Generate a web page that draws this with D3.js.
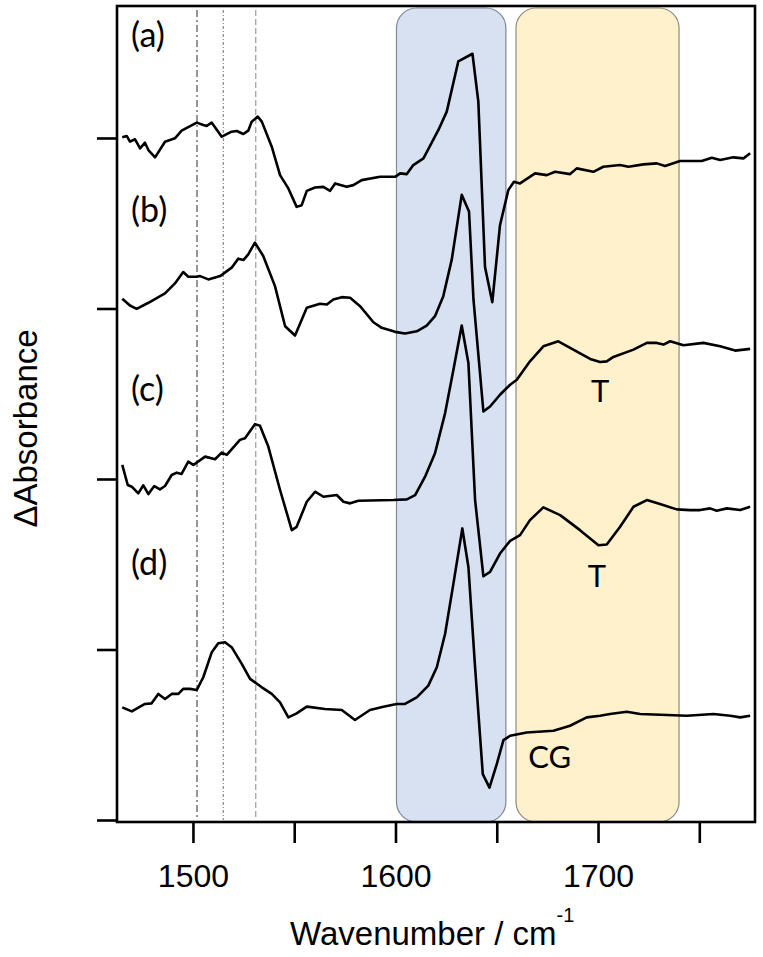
<!DOCTYPE html>
<html>
<head>
<meta charset="utf-8">
<script src="https://cdn.jsdelivr.net/npm/d3@7"></script>
<style>
  html, body { margin: 0; padding: 0; background: #fff; }
  svg { display: block; }
</style>
</head>
<body>
<svg id="chart" width="763" height="957"></svg>
<script>
// ---- data ----
const xTicks = [1500, 1550, 1600, 1650, 1700, 1750];
const xTickLabels = [1500, 1600, 1700];
const yTicks = [0, 170, 340, 510, 680];          // unlabelled offset ticks (a.u.)
const seriesNames = ["(a)", "(b)", "(c)", "(d)"];
const seriesOffsets = [680, 510, 340, 170];
const markerLines = [1502, 1515, 1531];
const bandBlue = [1600.5, 1654.5];
const bandYellow = [1659.5, 1740];

const waveA = [1465.1,1467.3,1468.9,1471.4,1473.9,1476.3,1478,1481.3,1486.2,1491.1,1494.4,1501.9,1505.1,1506.8,1509.3,1514.2,1519.1,1521.6,1524.9,1527.3,1529,1532,1534,1538.9,1543,1547.1,1551.2,1553.7,1556.2,1560.3,1564.4,1567.7,1570.2,1575.9,1579.2,1583.3,1592.4,1599.8,1602.3,1605.6,1608.8,1613.8,1621.2,1625.3,1631,1638,1640.9,1644.2,1647.8,1651.6,1655.7,1658.5,1661.5,1668.9,1674.7,1678.8,1686.2,1689.5,1697.7,1702.6,1710.9,1715,1722.4,1729,1733.1,1740.5,1751.2,1756.2,1760.3,1766.8,1771.8,1775.1];
const valuesA = [0.7,2,-3.7,-1.3,-10.3,-4.7,-12,-19.3,-3.7,-0.3,7.3,15.3,13,12,15.3,1.3,6.3,7,4,7.3,16.3,21.3,16.3,-8.7,-37,-50.3,-68.7,-67,-52.7,-49.3,-48.7,-52.7,-45.3,-48.7,-47,-42,-38.7,-38.7,-35.3,-36,-27,-20.3,8,26.3,76.3,84,36.3,-128.7,-163.7,-87,-52,-43.7,-45.3,-35.3,-37,-33.7,-36,-30.3,-33.7,-28.7,-27,-28.7,-26.3,-25.3,-28,-23,-23,-19.7,-22,-19.3,-20.3,-15.3];

const waveB = [1465.1,1468.9,1472.2,1478,1486.2,1491.1,1495.2,1497.7,1501.9,1503.5,1507.6,1513.4,1519.1,1522.4,1524.9,1527.3,1530.6,1534.7,1540.5,1545.5,1550.4,1556.2,1562.7,1566.1,1569.3,1573.5,1577.6,1582.5,1589.1,1593.2,1599.8,1604.7,1610.5,1615.4,1619.5,1623.6,1627.8,1632.7,1636.3,1638.5,1643.4,1646.7,1651.6,1656.6,1659.9,1666.4,1673,1680.4,1687.8,1696.1,1701,1704.3,1707.6,1717.5,1724.1,1729,1732.3,1735.6,1742.2,1752,1760.3,1767.7,1775.1];
const valuesB = [9.7,3,-0.3,5.7,15,25,36.3,31.7,31.7,32.3,29,32.3,40.7,49.7,48.3,54,65.7,52.3,22.3,-17.7,-27,0.7,4.7,4,9,11.3,10.7,2.3,-13.7,-19.3,-23.3,-25,-22.7,-17,-7.7,12.3,49,113.3,96.7,9,-102.7,-97.7,-86,-76,-71,-52.7,-37.7,-32.7,-41,-50.3,-53.3,-52.7,-48.3,-41,-34.3,-34.3,-36,-32.7,-36.7,-34.3,-37.7,-42,-40.3];

const waveC = [1465.1,1467.8,1469.8,1473,1475.5,1478,1480.9,1483.7,1486.2,1489.5,1492,1494.4,1497.7,1500.2,1506,1510.9,1514.2,1516.7,1523.2,1525.7,1530.6,1533.1,1537.2,1543,1548.8,1551.2,1556.2,1560.3,1564.4,1571,1574.3,1577.6,1581.7,1598.9,1605.6,1609.7,1614.6,1619.5,1624.5,1628.6,1632.7,1636,1639.3,1643.4,1646.7,1651.6,1656.6,1661.5,1666.4,1673,1681.3,1691.1,1700.2,1704.3,1710.9,1717.5,1724.1,1730.6,1738.9,1745.5,1750.4,1755.3,1758.6,1763.6,1770.2,1775.1];
const valuesC = [14,-6,-7.7,-14.3,-6.3,-15,-7,-10.3,-7,4,6.3,5,17.3,14,22.3,19.7,26.3,24,39,40.7,54.7,53,32.3,-11,-51,-47.7,-22.7,-12.7,-17.7,-16,-22.7,-24.3,-21.7,-21,-20.3,-16,2.3,25.7,65.7,109,153,115.7,-21,-97,-92.7,-74.3,-61.7,-56,-41,-28.3,-36,-51,-66,-65.3,-47.7,-27.7,-21,-25,-30.3,-31,-31,-29.3,-31.7,-29.3,-31,-27.7];

const waveD = [1465.1,1469.8,1476.3,1479.6,1482.9,1486.2,1489.5,1492.8,1495.2,1498.5,1501.9,1505.1,1509.3,1512.5,1515.8,1519.1,1524.1,1528.2,1534,1538.9,1543,1547.1,1551.2,1556.2,1565.2,1573.5,1580,1587.4,1594,1600.6,1604.7,1610.5,1616.2,1620.4,1624.5,1628.6,1633,1636,1639.3,1643.1,1646.4,1650,1653.3,1656.6,1664.8,1678,1686.2,1694.4,1701,1705.9,1714.2,1720.8,1734,1743.8,1757,1765.3,1770.2,1775.1];
const valuesD = [-57.7,-61.7,-54.3,-53.7,-44.3,-49.3,-44.3,-44.3,-39.3,-39.3,-40.3,-27.7,-2.7,6.3,7.3,2.3,-14.3,-29.3,-37.7,-44.3,-52.7,-67.7,-63.7,-57,-59.3,-60.3,-70.3,-60.3,-57,-54.3,-54.3,-47.7,-36,-17.7,15.7,65.7,120.7,82.3,-17.7,-124.3,-137.7,-114.3,-90.3,-86,-82.7,-81,-76,-67.7,-66,-64.3,-62,-64.3,-65.3,-66,-64.3,-66,-67.7,-66];

const annotations = [
  { text: "T", wave: 1701, series: 1, value: -93 },
  { text: "T", wave: 1699.5, series: 2, value: -108 },
  { text: "CG", wave: 1665.5, series: 3, value: -118 }
];

// ---- chart ----
const W = 763, H = 957;
const plot = { left: 117, top: 6, right: 755, bottom: 822 };
const svg = d3.select("#chart");

const x = d3.scaleLinear().domain([1462.5, 1777.5]).range([plot.left, plot.right]);
const y = d3.scaleLinear().domain([-2, 811.6]).range([plot.bottom, plot.top]);

const axisFont = "'Liberation Sans', Arial, sans-serif";
const labelFont = "Lato, 'Open Sans', sans-serif";

// bands
function band(b, fill, stroke) {
  svg.append("rect")
    .attr("x", x(b[0])).attr("y", plot.top + 2)
    .attr("width", x(b[1]) - x(b[0]))
    .attr("height", plot.bottom - plot.top - 2)
    .attr("rx", 20).attr("ry", 20)
    .attr("fill", fill).attr("stroke", stroke).attr("stroke-width", 1.2);
}
band(bandBlue, "#d7e1f1", "#7f8896");
band(bandYellow, "#fff1cc", "#8c8a84");

// marker lines
const markerStyles = [
  { color: "#5c5c70", dash: "7,3,2,3" },
  { color: "#a08c9c", dash: "3,2,1,2" },
  { color: "#a2a2b6", dash: "6,3" }
];
svg.selectAll("line.marker").data(markerLines).join("line")
  .attr("class", "marker")
  .attr("x1", d => x(d)).attr("x2", d => x(d))
  .attr("y1", plot.top + 4).attr("y2", plot.bottom - 2)
  .attr("stroke", (d, i) => markerStyles[i].color)
  .attr("stroke-width", 1.3)
  .attr("stroke-dasharray", (d, i) => markerStyles[i].dash);

// spectra
const waves = [waveA, waveB, waveC, waveD];
const values = [valuesA, valuesB, valuesC, valuesD];
const line = d3.line().x(d => x(d[0])).y(d => y(d[1])).curve(d3.curveLinear);
waves.forEach((wv, i) => {
  const pts = wv.map((w, j) => [w, values[i][j] + seriesOffsets[i]]);
  svg.append("path").datum(pts)
    .attr("d", line)
    .attr("fill", "none")
    .attr("stroke", "#000")
    .attr("stroke-width", 2.6)
    .attr("stroke-linejoin", "round");
});

// series labels
const labelBaselines = [47, 222, 401, 575];
svg.selectAll("text.series").data(seriesNames).join("text")
  .attr("class", "series")
  .attr("x", 131)
  .attr("y", (d, i) => labelBaselines[i])
  .attr("font-family", labelFont)
  .attr("font-size", 34)
  .attr("fill", "#000")
  .text(d => d);

// annotations
svg.selectAll("text.ann").data(annotations).join("text")
  .attr("class", "ann")
  .attr("x", d => x(d.wave))
  .attr("y", d => y(d.value + seriesOffsets[d.series]))
  .attr("text-anchor", d => d.text === "CG" ? "start" : "middle")
  .attr("font-family", labelFont)
  .attr("font-size", 31)
  .attr("fill", "#000")
  .text(d => d.text);

// axes
const yAxis = d3.axisLeft(y).tickValues(yTicks).tickSize(20).tickFormat("");
const gy = svg.append("g").attr("transform", `translate(${plot.left},0)`).call(yAxis);
gy.select(".domain").remove();
gy.selectAll(".tick line").attr("stroke", "#000").attr("stroke-width", 2.6);

const xAxis = d3.axisBottom(x).tickValues(xTicks).tickSize(21)
  .tickFormat(d => xTickLabels.includes(d) ? d : "");
const gx = svg.append("g").attr("transform", `translate(0,${plot.bottom})`).call(xAxis);
gx.select(".domain").remove();
gx.selectAll(".tick line").attr("stroke", "#000").attr("stroke-width", 2.6);
gx.selectAll(".tick text")
  .attr("y", 65).attr("dy", 0)
  .attr("font-family", axisFont).attr("font-size", 32).attr("fill", "#000");

// frame
svg.append("rect")
  .attr("x", plot.left).attr("y", plot.top)
  .attr("width", plot.right - plot.left).attr("height", plot.bottom - plot.top)
  .attr("fill", "none").attr("stroke", "#000").attr("stroke-width", 2.6);

// axis titles
const xt = svg.append("text")
  .attr("x", 290).attr("y", 945)
  .attr("font-family", axisFont).attr("font-size", 33).attr("fill", "#000");
xt.append("tspan").text("Wavenumber / cm");
xt.append("tspan").attr("font-size", 20).attr("dy", -23).text("-1");

svg.append("text")
  .attr("transform", "translate(37,428.5) rotate(-90)")
  .attr("text-anchor", "middle")
  .attr("font-family", axisFont).attr("font-size", 33).attr("fill", "#000")
  .text("ΔAbsorbance");
</script>
</body>
</html>
